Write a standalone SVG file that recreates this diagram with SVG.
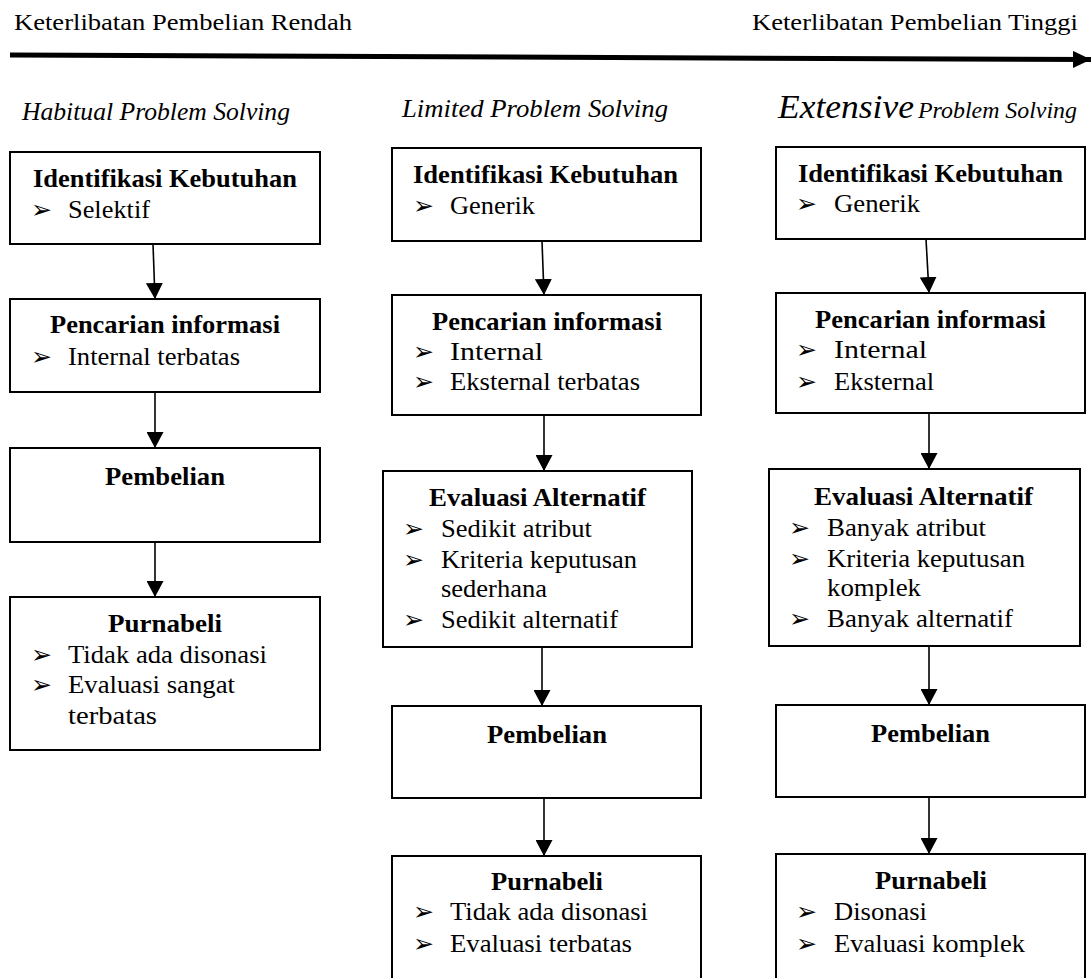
<svg xmlns="http://www.w3.org/2000/svg" width="1092" height="978" viewBox="0 0 1092 978">
<style>
.bx{fill:#fff;stroke:#000;stroke-width:2}
.t{font-size:25px;fill:#000}
.b{font-weight:bold}
.h{font-size:24px;fill:#000}
.i{font-style:italic;font-size:25px;fill:#000}
.bl{font-family:'DejaVu Sans',sans-serif;font-size:25px;fill:#000}
.c{stroke:#000;stroke-width:1.6;fill:none}
</style>
<defs>
<marker id="ah" markerUnits="userSpaceOnUse" markerWidth="16" markerHeight="17" viewBox="0 0 16 17" refX="16" refY="8.5" orient="auto">
<path d="M0,0 L16,8.5 L0,17 z" fill="#000"/>
</marker>
<marker id="ahb" markerUnits="userSpaceOnUse" markerWidth="18" markerHeight="17" viewBox="0 0 18 17" refX="18" refY="8.5" orient="auto">
<path d="M0,0 L18,8.5 L0,17 z" fill="#000"/>
</marker>
</defs>
<g font-family="Liberation Serif, Tinos, Times New Roman, serif">
<g id="header">
<text class="h" x="14" y="30" textLength="338" lengthAdjust="spacingAndGlyphs">Keterlibatan Pembelian Rendah</text>
<text class="h" x="752" y="30" textLength="326" lengthAdjust="spacingAndGlyphs">Keterlibatan Pembelian Tinggi</text>
<line x1="10" y1="55" x2="1091" y2="59.5" stroke="#000" stroke-width="5" marker-end="url(#ahb)"/>
<text class="i" x="22" y="120" textLength="268" lengthAdjust="spacingAndGlyphs">Habitual Problem Solving</text>
<text class="i" x="402" y="117" textLength="266" lengthAdjust="spacingAndGlyphs">Limited Problem Solving</text>
<text class="i" x="778" y="118" style="font-size:33px" textLength="136" lengthAdjust="spacingAndGlyphs">Extensive</text>
<text class="i" x="918" y="118" style="font-size:23px" textLength="159" lengthAdjust="spacingAndGlyphs">Problem Solving</text>
</g>

<g id="connectors">
<line class="c" x1="153" y1="244" x2="155" y2="299" marker-end="url(#ah)"/>
<line class="c" x1="155" y1="392" x2="155" y2="448" marker-end="url(#ah)"/>
<line class="c" x1="155" y1="542" x2="155" y2="597" marker-end="url(#ah)"/>
<line class="c" x1="542" y1="241" x2="544" y2="295" marker-end="url(#ah)"/>
<line class="c" x1="544" y1="415" x2="544" y2="471" marker-end="url(#ah)"/>
<line class="c" x1="542" y1="647" x2="542" y2="706" marker-end="url(#ah)"/>
<line class="c" x1="544" y1="798" x2="544" y2="856" marker-end="url(#ah)"/>
<line class="c" x1="926" y1="239" x2="929" y2="293" marker-end="url(#ah)"/>
<line class="c" x1="929" y1="413" x2="929" y2="469" marker-end="url(#ah)"/>
<line class="c" x1="929" y1="646" x2="929" y2="705" marker-end="url(#ah)"/>
<line class="c" x1="929" y1="797" x2="929" y2="854" marker-end="url(#ah)"/>
</g>

<g id="h1">
<rect class="bx" x="10" y="152" width="310" height="92"/>
<text class="t b" x="33" y="187" textLength="264" lengthAdjust="spacingAndGlyphs">Identifikasi Kebutuhan</text>
<text class="bl" x="31" y="218">➢</text>
<text class="t" x="68" y="218" textLength="82" lengthAdjust="spacingAndGlyphs">Selektif</text>
</g>
<g id="h2">
<rect class="bx" x="10" y="299" width="310" height="93"/>
<text class="t b" x="50" y="333" textLength="230" lengthAdjust="spacingAndGlyphs">Pencarian informasi</text>
<text class="bl" x="31" y="365">➢</text>
<text class="t" x="68" y="365" textLength="172" lengthAdjust="spacingAndGlyphs">Internal terbatas</text>
</g>
<g id="h3">
<rect class="bx" x="10" y="448" width="310" height="94"/>
<text class="t b" x="105" y="485" textLength="120" lengthAdjust="spacingAndGlyphs">Pembelian</text>
</g>
<g id="h4">
<rect class="bx" x="10" y="597" width="310" height="153"/>
<text class="t b" x="108" y="632" textLength="114" lengthAdjust="spacingAndGlyphs">Purnabeli</text>
<text class="bl" x="31" y="663">➢</text>
<text class="t" x="68" y="663" textLength="199" lengthAdjust="spacingAndGlyphs">Tidak ada disonasi</text>
<text class="bl" x="31" y="693">➢</text>
<text class="t" x="68" y="693" textLength="167" lengthAdjust="spacingAndGlyphs">Evaluasi sangat</text>
<text class="t" x="68" y="724" textLength="89" lengthAdjust="spacingAndGlyphs">terbatas</text>
</g>

<g id="l1">
<rect class="bx" x="392" y="148" width="309" height="93"/>
<text class="t b" x="413" y="183" textLength="265" lengthAdjust="spacingAndGlyphs">Identifikasi Kebutuhan</text>
<text class="bl" x="413" y="214">➢</text>
<text class="t" x="450" y="214" textLength="85" lengthAdjust="spacingAndGlyphs">Generik</text>
</g>
<g id="l2">
<rect class="bx" x="392" y="295" width="309" height="120"/>
<text class="t b" x="432" y="330" textLength="230" lengthAdjust="spacingAndGlyphs">Pencarian informasi</text>
<text class="bl" x="413" y="360">➢</text>
<text class="t" x="450" y="360" textLength="93" lengthAdjust="spacingAndGlyphs">Internal</text>
<text class="bl" x="413" y="390">➢</text>
<text class="t" x="450" y="390" textLength="190" lengthAdjust="spacingAndGlyphs">Eksternal terbatas</text>
</g>
<g id="l3">
<rect class="bx" x="383" y="471" width="309" height="176"/>
<text class="t b" x="429" y="506" textLength="217" lengthAdjust="spacingAndGlyphs">Evaluasi Alternatif</text>
<text class="bl" x="403" y="537">➢</text>
<text class="t" x="441" y="537" textLength="151" lengthAdjust="spacingAndGlyphs">Sedikit atribut</text>
<text class="bl" x="403" y="568">➢</text>
<text class="t" x="441" y="568" textLength="196" lengthAdjust="spacingAndGlyphs">Kriteria keputusan</text>
<text class="t" x="441" y="597" textLength="106" lengthAdjust="spacingAndGlyphs">sederhana</text>
<text class="bl" x="403" y="628">➢</text>
<text class="t" x="441" y="628" textLength="177" lengthAdjust="spacingAndGlyphs">Sedikit alternatif</text>
</g>
<g id="l4">
<rect class="bx" x="392" y="706" width="309" height="92"/>
<text class="t b" x="487" y="743" textLength="120" lengthAdjust="spacingAndGlyphs">Pembelian</text>
</g>
<g id="l5">
<rect class="bx" x="392" y="856" width="309" height="140"/>
<text class="t b" x="491" y="890" textLength="112" lengthAdjust="spacingAndGlyphs">Purnabeli</text>
<text class="bl" x="413" y="920">➢</text>
<text class="t" x="450" y="920" textLength="198" lengthAdjust="spacingAndGlyphs">Tidak ada disonasi</text>
<text class="bl" x="413" y="952">➢</text>
<text class="t" x="450" y="952" textLength="182" lengthAdjust="spacingAndGlyphs">Evaluasi terbatas</text>
</g>

<g id="e1">
<rect class="bx" x="776" y="147" width="309" height="92"/>
<text class="t b" x="798" y="182" textLength="265" lengthAdjust="spacingAndGlyphs">Identifikasi Kebutuhan</text>
<text class="bl" x="796" y="212">➢</text>
<text class="t" x="834" y="212" textLength="86" lengthAdjust="spacingAndGlyphs">Generik</text>
</g>
<g id="e2">
<rect class="bx" x="776" y="293" width="309" height="120"/>
<text class="t b" x="815" y="328" textLength="231" lengthAdjust="spacingAndGlyphs">Pencarian informasi</text>
<text class="bl" x="796" y="358">➢</text>
<text class="t" x="834" y="358" textLength="93" lengthAdjust="spacingAndGlyphs">Internal</text>
<text class="bl" x="796" y="390">➢</text>
<text class="t" x="834" y="390" textLength="100" lengthAdjust="spacingAndGlyphs">Eksternal</text>
</g>
<g id="e3">
<rect class="bx" x="769" y="469" width="311" height="177"/>
<text class="t b" x="814" y="505" textLength="219" lengthAdjust="spacingAndGlyphs">Evaluasi Alternatif</text>
<text class="bl" x="789" y="536">➢</text>
<text class="t" x="827" y="536" textLength="159" lengthAdjust="spacingAndGlyphs">Banyak atribut</text>
<text class="bl" x="789" y="567">➢</text>
<text class="t" x="827" y="567" textLength="198" lengthAdjust="spacingAndGlyphs">Kriteria keputusan</text>
<text class="t" x="827" y="596" textLength="94" lengthAdjust="spacingAndGlyphs">komplek</text>
<text class="bl" x="789" y="627">➢</text>
<text class="t" x="827" y="627" textLength="186" lengthAdjust="spacingAndGlyphs">Banyak alternatif</text>
</g>
<g id="e4">
<rect class="bx" x="776" y="705" width="309" height="92"/>
<text class="t b" x="871" y="742" textLength="119" lengthAdjust="spacingAndGlyphs">Pembelian</text>
</g>
<g id="e5">
<rect class="bx" x="776" y="854" width="309" height="140"/>
<text class="t b" x="875" y="889" textLength="112" lengthAdjust="spacingAndGlyphs">Purnabeli</text>
<text class="bl" x="796" y="920">➢</text>
<text class="t" x="834" y="920" textLength="93" lengthAdjust="spacingAndGlyphs">Disonasi</text>
<text class="bl" x="796" y="952">➢</text>
<text class="t" x="834" y="952" textLength="191" lengthAdjust="spacingAndGlyphs">Evaluasi komplek</text>
</g>
</g>
</svg>
